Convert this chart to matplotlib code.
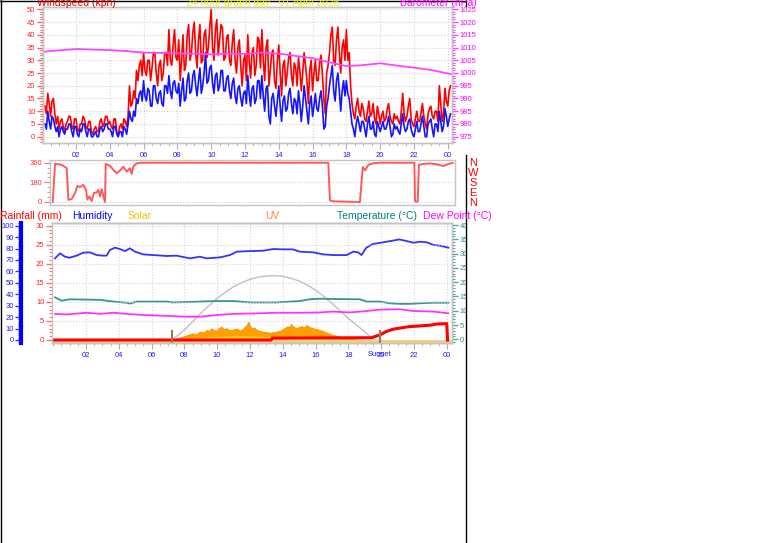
import numpy as np
import matplotlib
matplotlib.use('Agg')
import matplotlib.pyplot as plt
from matplotlib.lines import Line2D
from matplotlib.ticker import MultipleLocator

plt.rcParams['font.family'] = ['Liberation Sans', 'DejaVu Sans']

W, H = 761, 543

# --- wind, 5 minute samples from 00:10 to 24:10 ---
wind_t = np.arange(289) / 12 + 1 / 6
gust = [12, 9, 17, 13, 8, 14, 15, 9, 5, 8,
        3, 6, 7, 4, 2, 5, 6, 8, 8, 4, 3, 7,
        7, 3, 2, 5, 5, 8, 7, 4, 3, 6, 6, 2,
        1, 3, 4, 2, 2, 6, 7, 4, 5, 8, 8, 5,
        6, 4, 3, 7, 7, 2, 0, 4, 5, 3, 7, 6,
        4, 8, 20, 12, 13, 18, 15, 26, 22, 28, 30, 24,
        33, 26, 24, 30, 30, 22, 27, 33, 33, 25, 20, 28,
        30, 22, 25, 33, 33, 28, 42, 30, 28, 36, 42, 31,
        30, 38, 22, 30, 40, 26, 28, 40, 44, 30, 33, 41,
        45, 33, 27, 38, 44, 29, 30, 40, 42, 31, 35, 43,
        50, 35, 30, 42, 46, 32, 38, 44, 43, 30, 31, 39,
        40, 30, 28, 37, 42, 30, 25, 35, 38, 28, 20, 30,
        32, 22, 40, 30, 23, 33, 35, 24, 28, 39, 38, 27,
        42, 30, 22, 35, 38, 20, 26, 33, 34, 22, 19, 30,
        36, 25, 16, 28, 30, 20, 25, 31, 33, 24, 20, 29,
        27, 20, 31, 26, 18, 25, 33, 28, 22, 13, 26, 30,
        18, 25, 30, 22, 22, 29, 32, 24, 15, 9, 25, 28,
        33, 40, 43, 30, 28, 38, 43, 33, 25, 35, 38, 30,
        42, 30, 33, 20, 13, 9, 7, 12, 15, 10, 8, 13,
        11, 7, 6, 10, 14, 8, 9, 13, 7, 5, 12, 9,
        5, 8, 10, 6, 7, 11, 13, 8, 6, 5, 9, 7,
        8, 6, 5, 10, 17, 9, 6, 8, 12, 15, 7, 5,
        4, 7, 10, 6, 6, 9, 13, 8, 5, 3, 9, 11,
        12, 8, 7, 10, 10, 6, 20, 13, 6, 9, 19, 14,
        12, 18, 20]
avg = [5, 3, 10, 6, 3, 8, 7, 4, 2, 4,
       0, 3, 4, 2, 1, 3, 3, 5, 5, 2, 0, 4,
       4, 1, 0, 3, 2, 5, 5, 2, 0, 3, 3, 0,
       0, 1, 2, 0, 0, 3, 4, 2, 3, 5, 5, 3,
       3, 2, 0, 4, 4, 1, 0, 2, 2, 0, 4, 3,
       1, 5, 10, 7, 6, 10, 8, 15, 13, 17, 18, 14,
       22, 16, 14, 19, 18, 12, 12, 20, 20, 15, 13, 17,
       18, 13, 12, 20, 20, 17, 24, 18, 15, 21, 22, 18,
       17, 21, 12, 18, 23, 14, 15, 22, 25, 17, 18, 24,
       26, 20, 16, 22, 27, 17, 20, 25, 33, 21, 22, 27,
       28, 21, 17, 24, 25, 18, 20, 26, 26, 18, 18, 23,
       24, 18, 15, 21, 23, 16, 13, 19, 20, 15, 12, 17,
       18, 13, 24, 17, 12, 19, 20, 13, 15, 22, 22, 15,
       24, 16, 10, 19, 20, 8, 5, 15, 17, 12, 8, 14,
       20, 12, 6, 14, 16, 10, 11, 17, 19, 13, 9, 15,
       14, 9, 18, 13, 6, 12, 20, 15, 10, 5, 13, 16,
       8, 12, 17, 11, 10, 15, 18, 12, 3, 4, 12, 15,
       20, 24, 28, 18, 14, 22, 25, 18, 10, 18, 22, 16,
       22, 17, 15, 10, 5, 3, 0, 5, 8, 5, 2, 6,
       6, 3, 0, 5, 8, 3, 3, 6, 1, 0, 6, 4,
       2, 4, 6, 3, 3, 5, 8, 4, 0, 1, 5, 3,
       4, 2, 1, 5, 9, 4, 2, 3, 6, 7, 3, 1,
       0, 3, 6, 2, 2, 5, 8, 4, 0, 0, 5, 6,
       7, 3, 0, 5, 5, 2, 10, 6, 2, 4, 11, 8,
       4, 7, 9]

baro_t = [0.17, 1, 2, 3, 4, 5, 6, 7, 8, 9, 10, 11, 12, 13, 14, 15, 16, 17, 18, 19, 20, 21, 22, 23, 24.17]
baro = [1008.4, 1008.9, 1009.4, 1009.2, 1009.0, 1008.6, 1008.0, 1007.9, 1007.7, 1007.6, 1007.3, 1007.6,
        1007.5, 1008.0, 1007.6, 1006.7, 1005.8, 1004.2, 1002.7, 1003.1, 1003.8, 1002.9, 1002.1, 1001.2, 999.6]

dir_t = [0.17, 0.31, 0.71, 1.01, 1.11, 1.31, 1.51, 1.65, 1.81, 2.01, 2.17, 2.25, 2.37, 2.51, 2.65, 2.81,
         2.91, 3.01, 3.11, 3.21, 3.31, 3.35, 3.61, 3.81, 4.01, 4.21, 4.41, 4.61, 4.81, 4.91, 5.01, 5.21,
         5.51, 16.72, 16.82, 17.02, 18.62, 18.79, 18.93, 19.12, 19.42, 19.82, 21.89, 21.93, 22.09, 22.16,
         22.42, 22.82, 23.23, 23.63, 23.93, 24.19]
dir_deg = [0, 350, 340, 310, 20, 27, 82, 148, 136, 157, 112, 21, 51, 9, 82, 88,
           112, 51, 118, 51, 0, 348, 330, 294, 264, 288, 324, 279, 309, 258, 324, 354,
           360, 360, 15, 6, 0, 320, 290, 339, 355, 360, 360, 5, 3, 340,
           348, 354, 345, 330, 348, 358]

hum_t = [0.11, 0.42, 0.72, 1.0, 1.43, 1.84, 2.24, 2.65, 3.06, 3.26, 3.46, 3.77, 4.07, 4.38, 4.68, 4.99,
         5.5, 6.11, 6.92, 7.53, 8.35, 8.95, 9.36, 10.17, 10.78, 11.2, 12.0, 12.8, 13.42, 14.0, 14.6,
         15.05, 15.86, 16.47, 17.08, 17.9, 18.3, 18.6, 18.8, 19.1, 19.5, 20.1, 20.7, 21.1, 21.55, 21.96,
         22.4, 22.8, 23.2, 23.6, 24.1]
hum = [71.4, 75.8, 72.9, 72.0, 73.8, 76.4, 76.7, 74.3, 73.8, 73.8, 78.7, 80.8, 79.6, 77.8, 80.2, 77.3,
       74.9, 74.3, 73.5, 73.8, 71.4, 72.9, 71.4, 72.3, 74.3, 77.3, 77.8, 78.1, 79.6, 79.3, 79.3,
       77.3, 76.7, 74.9, 74.3, 74.3, 77.3, 76.7, 74.3, 80.8, 84.0, 85.4, 86.9, 88.0, 86.6, 85.1,
       86.0, 85.4, 83.1, 82.5, 80.8]

temp_t = [0.11, 0.52, 1.02, 2.85, 3.67, 4.48, 4.68, 5.09, 6.92, 7.32, 8.95, 9.97, 10.98, 12.0, 13.02,
          13.63, 14.44, 15.05, 15.66, 16.27, 17.08, 18.71, 19.12, 19.93, 20.54, 21.15, 21.76, 22.37,
          23.18, 24.09]
temp = [14.7, 13.5, 14.0, 13.8, 13.2, 12.8, 12.5, 13.2, 13.2, 12.9, 13.2, 13.4, 13.4, 12.9, 12.9,
        12.9, 13.2, 13.4, 14.0, 14.2, 14.1, 14.0, 13.2, 13.2, 12.6, 12.4, 12.4, 12.6, 12.8, 12.8]

dew_t = [0.11, 0.82, 2.04, 2.85, 3.67, 4.48, 5.5, 6.92, 8.14, 8.95, 9.97, 10.98, 12.61, 13.63, 15.05,
         16.27, 17.08, 18.1, 19.12, 19.93, 21.15, 21.96, 23.18, 24.09]
dew = [8.9, 8.7, 9.3, 8.9, 9.3, 8.9, 8.5, 8.2, 7.9, 7.9, 8.5, 8.9, 9.1, 9.3, 9.3,
       9.4, 9.7, 9.4, 9.9, 10.4, 10.5, 9.9, 9.7, 9.1]

solar_max_t = [7.2, 7.6, 8, 8.5, 9, 9.5, 10, 10.5, 11, 11.5, 12, 12.5, 13, 13.5, 14, 14.5, 15, 15.5,
               16, 16.5, 17, 17.5, 18, 18.5, 19, 19.3, 19.6]
solar_max = [0, 40, 87, 160, 233, 300, 364, 418, 466, 502, 531, 550, 560, 563, 557, 540, 516, 480,
             437, 382, 321, 256, 190, 130, 73, 35, 0]

solar_t = [7.2, 7.33, 7.6, 7.9, 8.2, 8.5, 8.75, 8.95, 9.15, 9.36, 9.5, 9.66, 9.8, 9.97, 10.1, 10.27,
           10.4, 10.58, 10.8, 10.98, 11.2, 11.39, 11.55, 11.7, 11.8, 11.9, 12.0, 12.1, 12.25, 12.4,
           12.6, 12.8, 13.0, 13.2, 13.4, 13.6, 13.8, 14.0, 14.15, 14.3, 14.4, 14.5, 14.65, 14.85,
           15.0, 15.15, 15.3, 15.46, 15.65, 15.86, 16.05, 16.27, 16.5, 16.7, 16.9, 17.1, 17.3, 17.5,
           17.75, 18.0, 18.5, 19.0]
solar = [0, 6, 18, 29, 45, 58, 52, 73, 66, 88, 80, 102, 86, 82, 105, 117,
         98, 102, 84, 93, 100, 82, 95, 117, 130, 160, 125, 102, 110, 88,
         80, 73, 70, 64, 68, 73, 80, 93, 108, 122, 110, 140, 118, 102,
         115, 122, 110, 131, 112, 102, 96, 88, 75, 64, 52, 44, 36, 29,
         22, 15, 5, 0]

uv_t = [7.2, 7.5, 8, 9, 10, 11, 12, 13, 14, 15, 16, 17, 18, 18.5]
uv = [0, 0.05, 0.15, 0.25, 0.3, 0.35, 0.35, 0.3, 0.3, 0.25, 0.2, 0.1, 0.05, 0]

rain_t = [0, 13.3, 13.35, 19.4, 19.9, 20.3, 20.7, 21.1, 21.7, 22.4, 23.0, 23.4, 24.0, 24.05]
rain = [0, 0, 0.5, 0.6, 1.3, 2.2, 2.8, 3.1, 3.5, 3.7, 3.9, 4.2, 4.3, 0]

sunrise, sunset = 7.22, 19.93
hour_ticks = list(range(2, 25, 2))
hour_labels = ['02', '04', '06', '08', '10', '12', '14', '16', '18', '20', '22', '00']

XCOL = '#2020ff'
GRID = '#d4d4d4'
FS = 5.5

fig = plt.figure(figsize=(W / 100, H / 100), dpi=100)


def add_ax(l, t, r, b):
    return fig.add_axes([l / W, 1 - b / H, (r - l) / W, (b - t) / H])


def lims(v0, y0, v1, y1, top, bottom):
    k = (y0 - y1) / (v1 - v0)
    return v0 - (bottom - y0) / k, v0 + (y0 - top) / k


def frame(ax):
    for s in ax.spines.values():
        s.set_color('#c4c4c4')
        s.set_linewidth(1)


def yticks(ax, major, minor, col, lcol):
    ax.yaxis.set_major_locator(MultipleLocator(major))
    ax.yaxis.set_minor_locator(MultipleLocator(minor))
    ax.tick_params(axis='y', which='both', colors=col, labelcolor=lcol, labelsize=FS, pad=1.5)
    ax.tick_params(axis='y', which='major', length=4, width=1)
    ax.tick_params(axis='y', which='minor', length=2, width=0.8)


def xticks(ax):
    ax.set_xticks(hour_ticks, hour_labels)
    ax.xaxis.set_minor_locator(MultipleLocator(0.5))
    ax.tick_params(axis='x', which='both', colors='#b0b0b0', labelcolor=XCOL, labelsize=FS, pad=2.5)
    ax.tick_params(axis='x', which='major', length=4)
    ax.tick_params(axis='x', which='minor', length=2)


def ftext(x, y, s, **kw):
    fig.text(x / W, 1 - y / H, s, **kw)


# ---- panel 1: wind speed + barometer ----
ax1 = add_ax(43, 7, 452, 143)
ax1.set_xlim(0.05, 24.25)
ax1.set_ylim(*lims(0, 136.7, 50, 9.3, 7, 143))
ax1.grid(True, color=GRID, ls=':', lw=0.8)
ax1.plot(wind_t, gust, color='#ff0000', lw=1.2)
ax1.plot(wind_t, avg, color='#1515ff', lw=1.2)
frame(ax1)
yticks(ax1, 5, 1, '#ff6060', '#ff2020')
xticks(ax1)

ax1b = ax1.twinx()
ax1b.set_ylim(*lims(975, 136.7, 1025, 9.3, 7, 143))
ax1b.plot(baro_t, baro, color='#ff44ff', lw=1.3)
frame(ax1b)
yticks(ax1b, 5, 1, '#ff44ff', '#ff00ff')

ftext(37, 5.5, 'Windspeed (kph)', color='#e00000', fontsize=7.5, va='baseline')
ftext(186, 5.5, '24 hour graph day : 01 April 2026', color='#f0f000', fontsize=7.5, va='baseline')
ftext(400, 5.5, 'Barometer (hPa)', color='#ff00ff', fontsize=7.5, va='baseline')

# ---- panel 2: wind direction ----
ax2 = add_ax(50, 160, 455, 205)
ax2.set_xlim(0.006, 24.33)
ax2.set_ylim(*lims(0, 202, 360, 162.7, 160, 205))
ax2.set_yticks([0, 180, 360])
ax2.yaxis.set_minor_locator(MultipleLocator(45))
ax2.tick_params(axis='y', which='both', colors='#ff7070', labelcolor='#ff3030', labelsize=FS, pad=1.5)
ax2.tick_params(axis='y', which='major', length=4)
ax2.tick_params(axis='y', which='minor', length=2)
ax2.set_xticks([])
ax2.yaxis.grid(True, color=GRID, ls=':', lw=0.8)
ax2.plot(dir_t, dir_deg, color='#ff5a5a', lw=1.4)
frame(ax2)

for s, y in zip(['N', 'W', 'S', 'E', 'N'], [163, 173.5, 183.5, 193.5, 203.5]):
    ftext(473, y, s, color='#ff0000', fontsize=8, ha='center', va='center')

# ---- panel 3: humidity, temperature, solar, rain ----
top3, bot3 = 223, 343
ax3 = add_ax(52, top3, 452, bot3)
ax3.set_xlim(-0.07, 24.32)
ax3.set_ylim(*lims(0, 340, 100, 225.7, top3, bot3))
ax3.xaxis.grid(True, color=GRID, ls=':', lw=0.8)
ax3.plot(hum_t, hum, color='#3333ff', lw=1.3)
frame(ax3)
ax3.spines['left'].set_position(('outward', 22))
ax3.spines['left'].set_color('#0000ff')
ax3.spines['left'].set_linewidth(3)
yticks(ax3, 10, 2, '#3333ff', '#2020ff')
xticks(ax3)

ax_sol = ax3.twinx()
ax_sol.set_ylim(*lims(0, 340, 1000, 225.7, top3, bot3))
ax_sol.plot(solar_max_t, solar_max, color='#c4c4c4', lw=1.1)
ax_sol.fill_between(solar_t, solar, color='#ffa000', lw=0.6, edgecolor='#ff8c00')
ax_sol.set_axis_off()

ax_uv = ax3.twinx()
ax_uv.set_ylim(*lims(0, 340, 10, 225.7, top3, bot3))
ax_uv.fill_between(uv_t, uv, color='#ffe000', lw=0)
ax_uv.axhspan(-0.22, 0, color='#f2d070', lw=0)
ax_uv.set_axis_off()

ax_t = ax3.twinx()
ax_t.set_ylim(*lims(0, 339.3, 40, 225, top3, bot3))
ax_t.plot(temp_t, temp, color='#35968e', lw=1.3)
ax_t.plot(dew_t, dew, color='#ff33ff', lw=1.3)
frame(ax_t)
ax_t.spines['left'].set_visible(False)
yticks(ax_t, 5, 1, '#5aa8a0', '#2f8f88')

ax_r = ax3.twinx()
ax_r.set_ylim(*lims(0, 340, 30, 225.7, top3, bot3))
ax_r.yaxis.tick_left()
ax_r.yaxis.grid(True, color=GRID, ls=':', lw=0.8)
ax_r.plot(rain_t, rain, color='#ff0000', lw=2.2)
for h in (sunrise, sunset):
    ax_r.axvline(h, ymin=0.01, ymax=0.1, color='#a07850', lw=1.5)
frame(ax_r)
ax_r.spines['right'].set_visible(False)
yticks(ax_r, 5, 1, '#ff7070', '#ff2020')

ftext(380, 354, 'Sunset', color=XCOL, fontsize=FS, ha='center', va='center')

hy = 216
ftext(0, hy, 'Rainfall (mm)', color='#ff0000', fontsize=7.5, va='center')
ftext(72, hy, 'Humidity', color='#0000ff', fontsize=7.5, va='center')
ftext(128, hy, 'Solar', color='#f0c000', fontsize=7.5, va='center')
ftext(265, hy, 'UV', color='#ff8040', fontsize=7.5, va='center')
ftext(337, hy, 'Temperature (°C)', color='#008080', fontsize=7.5, va='center')
ftext(423, hy, 'Dew Point (°C)', color='#ff00ff', fontsize=7.5, va='center')

# ---- outer frame lines ----
for (x0, y0, x1, y1) in [(0.5, 0, 0.5, H), (0, 0.5, 465.5, 0.5),
                         (465.5, 0, 465.5, 6), (465.5, 155, 465.5, H)]:
    fig.add_artist(Line2D([x0 / W, x1 / W], [1 - y0 / H, 1 - y1 / H],
                          transform=fig.transFigure, color='black', lw=1))

plt.savefig('out.png', dpi=100)
